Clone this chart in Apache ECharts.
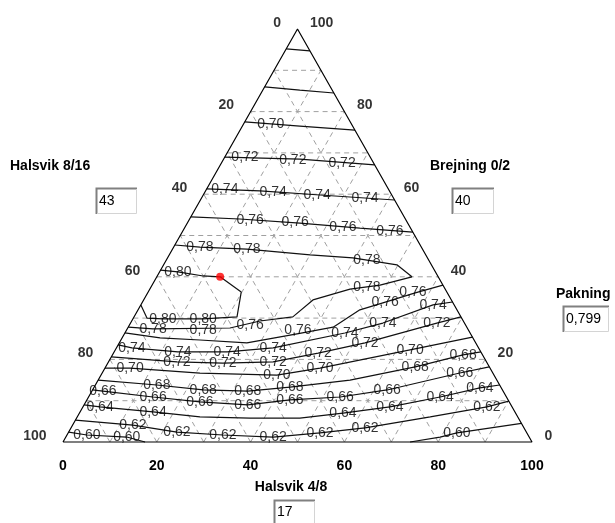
<!DOCTYPE html>
<html>
<head>
<meta charset="utf-8">
<script src="https://cdn.jsdelivr.net/npm/echarts@6/dist/echarts.min.js"></script>
<style>html,body{margin:0;padding:0;background:#fff;}#c{width:615px;height:523px;}</style>
</head>
<body>
<div id="c"></div>
<script>
// ---- axis tick values ----
const bottomTicks = [0, 20, 40, 60, 80, 100];      // Halsvik 4/8
const leftTicks = [0, 20, 40, 60, 80, 100];        // Halsvik 8/16 (0 at apex)
const rightTicks = [100, 80, 60, 40, 20, 0];       // Brejning 0/2
const gridSteps = [10, 20, 30, 40, 50, 60, 70, 80, 90];

// ---- axis titles and read-out boxes ----
const titleLeft = 'Halsvik 8/16', titleRight = 'Brejning 0/2', titleBottom = 'Halsvik 4/8', titleValue = 'Pakning';
const valLeft = '43', valRight = '40', valBottom = '17', valPakning = '0,799';

// ---- selected point [horizontal %, Brejning %] ----
const selectedPoint = [33.5, 40.0];

// ---- contour lines: points [horizontal %, height % (Brejning)] ----
const cTopA = [[47.6,95.2],[52.65,94.7]];
const cTopB = [[43.0,86.0],[50.5,85.2],[57.75,84.5]];
const c070a = [[38.75,77.5],[50.5,76.5],[62.25,75.5]];
const c070aLab = [[44.3,77.0]];
const c072a = [[34.5,69.0],[50.5,68.5],[66.45,67.1]];
const c072aLab = [[38.8,69.0],[49.0,68.3],[59.5,67.6]];
const c074a = [[30.65,61.3],[42.0,60.8],[54.8,59.8],[70.7,58.6]];
const c074aLab = [[34.5,61.3],[44.8,60.5],[54.2,59.8],[64.4,59.1]];
const c076a = [[27.25,54.5],[37.7,54.0],[50.5,53.0],[63.3,51.8],[74.6,50.8]];
const c076aLab = [[39.9,53.8],[49.5,53.3],[59.7,52.1],[69.7,51.1]];
const c078 = [[23.85,47.7],[29.2,47.2],[39.2,46.7],[52.7,45.3],[61.8,44.6],[71.2,42.9],[74.4,40.0],[67.6,38.0],[61.2,37.0],[53.3,34.4],[49.0,30.3],[42.0,29.3],[35.6,27.6],[19.2,27.4],[13.9,27.8]];
const c078Lab = [[29.2,47.2],[39.2,46.7],[64.8,44.1],[64.8,37.6],[19.2,27.4],[29.9,27.2]];
const c080 = [[20.8,41.6],[24.5,41.2],[29.9,40.2],[33.5,40.0],[38.0,36.3],[37.1,30.3],[29.9,29.8],[21.3,29.8],[17.9,30.0],[16.6,33.2]];
const c080Lab = [[24.5,41.2],[21.3,29.8],[29.9,29.8]];
const c076b = [[13.2,26.4],[20.7,25.2],[29.2,24.7],[39.2,24.0],[49.9,26.2],[57.6,27.8],[63.3,32.0],[68.2,33.7],[75.1,36.1],[81.0,38.0]];
const c076bLab = [[39.9,28.3],[50.1,27.1],[68.7,33.9],[74.6,36.3]];
const c074b = [[11.75,23.5],[14.7,22.8],[24.5,21.8],[35.0,21.8],[44.8,22.8],[60.1,26.4],[68.2,28.8],[78.9,33.2],[83.05,33.9]];
const c074bLab = [[14.7,22.8],[24.5,21.8],[35.0,21.8],[44.8,22.8],[60.1,26.4],[68.2,28.8],[78.9,33.2]];
const c072b = [[10.3,20.6],[24.3,19.4],[34.1,19.1],[44.8,19.4],[54.4,21.5],[64.4,24.0],[79.7,28.8],[84.85,30.3]];
const c072bLab = [[24.3,19.4],[34.1,19.1],[44.8,19.4],[54.4,21.5],[64.4,24.0],[79.7,28.8]];
const c070b = [[8.95,17.9],[14.3,17.9],[29.2,16.7],[45.6,16.2],[54.8,17.9],[74.0,22.3],[87.3,25.4]];
const c070bLab = [[14.3,17.9],[45.6,16.2],[54.8,17.9],[74.0,22.3]];
const c068 = [[7.5,15.0],[20.0,13.8],[29.9,12.6],[39.4,12.3],[48.4,13.3],[61.2,15.0],[75.1,18.2],[85.3,21.1],[89.1,21.8]];
const c068Lab = [[20.0,13.8],[29.9,12.6],[39.4,12.3],[48.4,13.3],[75.1,18.2],[85.3,21.1]];
const c066 = [[6.3,12.6],[8.5,12.3],[19.2,10.9],[29.2,9.7],[39.4,9.0],[48.4,10.2],[59.1,10.9],[69.1,12.6],[84.6,16.7],[90.9,18.2]];
const c066Lab = [[8.5,12.3],[19.2,10.9],[29.2,9.7],[39.4,9.0],[48.4,10.2],[59.1,10.9],[69.1,12.6],[84.6,16.7]];
const c064 = [[4.5,9.0],[7.9,8.5],[19.2,7.3],[29.2,6.1],[39.9,5.8],[50.5,5.8],[59.7,7.0],[69.7,8.5],[80.4,10.9],[88.9,13.1],[93.1,13.8]];
const c064Lab = [[7.9,8.5],[19.2,7.3],[59.7,7.0],[69.7,8.5],[80.4,10.9],[88.9,13.1]];
const c062 = [[2.65,5.3],[14.9,4.1],[24.3,2.4],[34.1,1.7],[44.8,1.2],[54.8,2.2],[64.4,3.4],[78.3,6.1],[90.4,8.5],[95.05,9.9]];
const c062Lab = [[14.9,4.1],[24.3,2.4],[34.1,1.7],[44.8,1.2],[54.8,2.2],[64.4,3.4],[90.4,8.5]];
const c060a = [[1.2,2.4],[5.1,1.7],[13.6,1.2],[17.5,0]];
const c060aLab = [[5.1,1.7],[13.6,1.2]];
const c060b = [[74.0,0],[80.4,1.2],[84.0,2.2],[97.75,4.5]];
const c060bLab = [[84.0,2.2]];

const contours = [
  {v: null, pts: cTopA, labs: []},
  {v: null, pts: cTopB, labs: []},
  {v: 0.70, pts: c070a, labs: c070aLab},
  {v: 0.72, pts: c072a, labs: c072aLab},
  {v: 0.74, pts: c074a, labs: c074aLab},
  {v: 0.76, pts: c076a, labs: c076aLab},
  {v: 0.78, pts: c078, labs: c078Lab},
  {v: 0.80, pts: c080, labs: c080Lab},
  {v: 0.76, pts: c076b, labs: c076bLab},
  {v: 0.74, pts: c074b, labs: c074bLab},
  {v: 0.72, pts: c072b, labs: c072bLab},
  {v: 0.70, pts: c070b, labs: c070bLab},
  {v: 0.68, pts: c068, labs: c068Lab},
  {v: 0.66, pts: c066, labs: c066Lab},
  {v: 0.64, pts: c064, labs: c064Lab},
  {v: 0.62, pts: c062, labs: c062Lab},
  {v: 0.60, pts: c060a, labs: c060aLab},
  {v: 0.60, pts: c060b, labs: c060bLab}
];

const FONT = '"Liberation Sans", Arial, sans-serif';
const fmt = v => v.toFixed(2).replace('.', ',');

const series = [];
function lineSeries(pts, style, z) {
  return {type: 'line', data: pts, symbol: 'none', silent: true, animation: false, clip: false, z: z,
    lineStyle: style};
}
const dashStyle = {color: '#a0a0a0', width: 1, type: [5, 4]};
gridSteps.forEach(v => {
  series.push(lineSeries([[v / 2, v], [100 - v / 2, v]], dashStyle, 1));
  series.push(lineSeries([[v, 0], [v + (100 - v) / 2, 100 - v]], dashStyle, 1));
  series.push(lineSeries([[100 - v, 0], [(100 - v) / 2, 100 - v]], dashStyle, 1));
});
// triangle outline
series.push(lineSeries([[0, 0], [100, 0], [50, 100], [0, 0]], {color: '#000', width: 1.2}, 3));
// contour lines
contours.forEach(c => series.push(lineSeries(c.pts, {color: '#111', width: 1.2}, 2)));
// contour labels
const labData = [];
contours.forEach(c => { if (c.v !== null) c.labs.forEach(p => labData.push({value: p, name: fmt(c.v)})); });
series.push({type: 'scatter', data: labData, symbolSize: 1, silent: true, animation: false, z: 5,
  itemStyle: {color: 'rgba(0,0,0,0)'},
  label: {show: true, position: 'inside', formatter: '{b}', color: '#000', fontSize: 14, fontFamily: FONT}});
// side tick labels
series.push({type: 'scatter', symbolSize: 1, silent: true, animation: false, z: 5,
  itemStyle: {color: 'rgba(0,0,0,0)'},
  data: leftTicks.map(v => ({value: [(100 - v) / 2, 100 - v], name: String(v)})),
  label: {show: true, position: 'left', distance: 16, offset: [0, -6], formatter: '{b}', color: '#000',
    fontSize: 14, fontWeight: 'bold', fontFamily: FONT}});
series.push({type: 'scatter', symbolSize: 1, silent: true, animation: false, z: 5,
  itemStyle: {color: 'rgba(0,0,0,0)'},
  data: rightTicks.map(v => ({value: [100 - v / 2, v], name: String(v)})),
  label: {show: true, position: 'right', distance: 12, offset: [0, -6], formatter: '{b}', color: '#000',
    fontSize: 14, fontWeight: 'bold', fontFamily: FONT}});
// selected point
series.push({type: 'scatter', data: [selectedPoint], symbolSize: 8, silent: true, animation: false, z: 6,
  itemStyle: {color: '#ff0000'}});

function box(x, y, w, h, txt) {
  return [
    {type: 'rect', shape: {x: x, y: y, width: w, height: h}, style: {fill: '#fff'}, silent: true},
    {type: 'polyline', shape: {points: [[x + 0.5, y + h], [x + 0.5, y + 0.5], [x + w, y + 0.5]]}, style: {stroke: '#808080', lineWidth: 2, fill: null}, silent: true},
    {type: 'polyline', shape: {points: [[x + 1, y + h - 0.5], [x + w - 0.5, y + h - 0.5], [x + w - 0.5, y + 1]]}, style: {stroke: '#d4d4d4', lineWidth: 1, fill: null}, silent: true},
    {type: 'text', x: x + 3, y: y + h / 2, style: {text: txt, fill: '#000', font: '14px ' + FONT, verticalAlign: 'middle', align: 'left'}, silent: true}
  ];
}
function title(x, y, txt, align) {
  return {type: 'text', x: x, y: y, silent: true,
    style: {text: txt, fill: '#000', font: 'bold 14px ' + FONT, verticalAlign: 'middle', align: align || 'left'}};
}

const graphics = [].concat(
  [title(10, 166, titleLeft), title(430, 166, titleRight), title(556, 294, titleValue), title(291, 487, titleBottom, 'center')],
  box(96, 188, 41, 26, valLeft),
  box(452, 188, 42, 26, valRight),
  box(563, 306, 46, 26, valPakning),
  box(274, 500, 41, 25, valBottom)
);

const chart = echarts.init(document.getElementById('c'));
chart.setOption({
  animation: false,
  backgroundColor: '#fff',
  grid: {left: 63, right: 83, top: 29, bottom: 81},
  xAxis: {type: 'value', min: 0, max: 100, interval: 20,
    axisLine: {show: false}, axisTick: {show: false}, splitLine: {show: false},
    axisLabel: {show: true, color: '#000', fontSize: 14, fontWeight: 'bold', fontFamily: FONT, margin: 17,
      formatter: v => (bottomTicks.indexOf(v) >= 0 ? String(v) : '')}},
  yAxis: {type: 'value', min: 0, max: 100, show: false},
  series: series,
  graphic: graphics
});
</script>
</body>
</html>
